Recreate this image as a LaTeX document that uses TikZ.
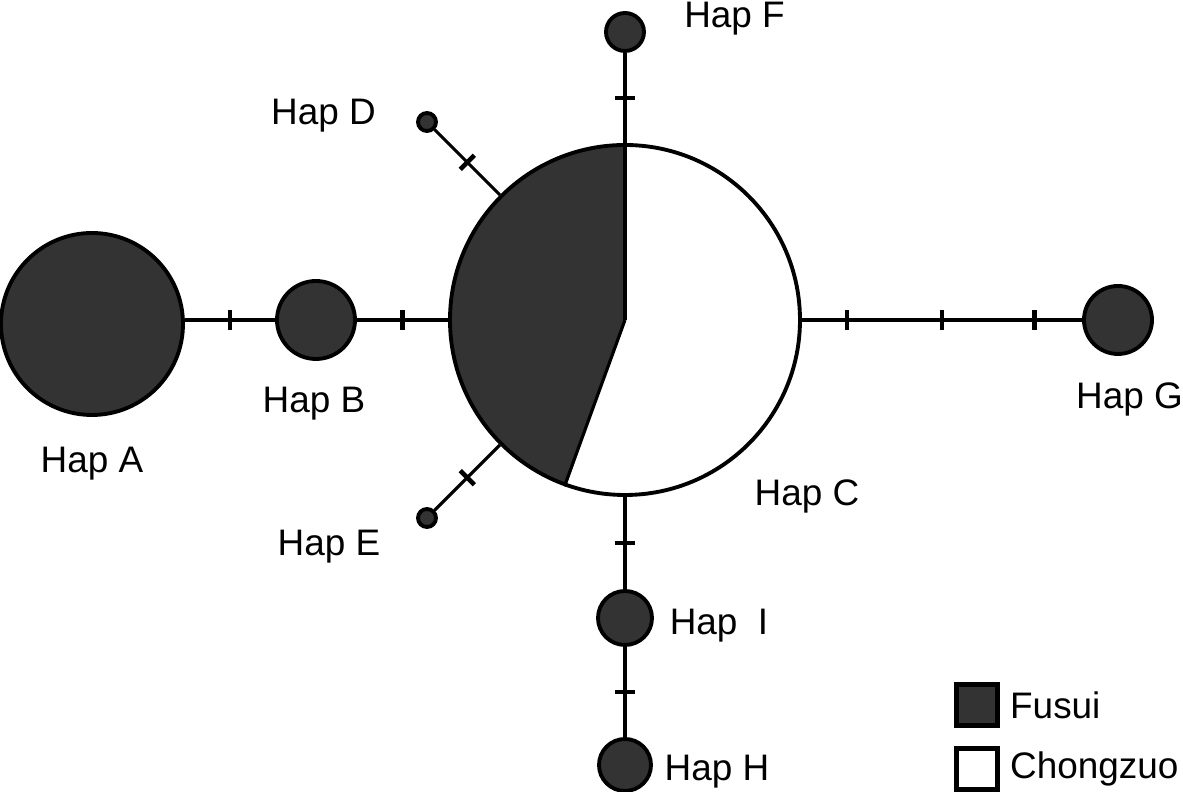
\documentclass[tikz,border=0pt]{standalone}
\usepackage{fontspec}
\setmainfont{Liberation Sans}
\usetikzlibrary{positioning}

\definecolor{fusui}{HTML}{333333}

\tikzset{
    hap/.style={circle, draw, line width=1.1pt, fill=fusui, inner sep=0pt},
    mut/.style={fill=black, inner sep=0pt, minimum width=0.045cm, minimum height=0.2cm, sloped},
    link/.style={line width=0.9pt},
    key/.style={rectangle, draw, line width=1.3pt, inner sep=0pt, minimum size=0.41cm}
}

\begin{document}
\begin{tikzpicture}[node distance=2cm, on grid, font=\fontsize{10.5}{12}\selectfont]
    \useasboundingbox (-6.25,3.20) rectangle (5.58,-4.72);

    \node[hap, fill=white, minimum size=3.5cm, path picture={
        \fill[fusui] (path picture bounding box.center) -- ++(90:2cm)
            arc[start angle=90, end angle=250.5, radius=2cm] -- cycle;}] (C) {};
    \node[hap, minimum size=1.82cm] (A) [below left=0.04cm and 5.33cm of C] {};
    \node[hap, minimum size=0.78cm] (B) [left=3.09cm of C] {};
    \node[hap, minimum size=0.18cm] (D) [above left=1.98cm and 1.98cm of C] {};
    \node[hap, minimum size=0.18cm] (E) [below left=1.98cm and 1.98cm of C] {};
    \node[hap, minimum size=0.38cm] (F) [above=2.88cm of C] {};
    \node[hap, minimum size=0.68cm] (G) [right=4.93cm of C] {};
    \node[hap, minimum size=0.54cm] (I) [below=2.98cm of C] {};
    \node[hap, minimum size=0.52cm] (H) [below=1.47cm of I] {};

    \draw[link] (C.center) -- (C.north);
    \draw[link] (C.center) -- (C.250.5);

    \path[link]
    (A.east |- B) edge node[mut] {} (B)
    (B) edge node[mut] {} (C)
    (D) edge node[mut] {} (C)
    (E) edge node[mut] {} (C)
    (C) edge node[mut] {} (F)
    (C) edge node[mut] {} (I)
    (I) edge node[mut] {} (H)
    (C) edge node[mut, pos=0.16] {} node[mut, pos=0.5] {} node[mut, pos=0.83] {} (G);

    % labels
    \node (lA) [below=1.40cm of A] {Hap A};
    \node (lB) [below left=0.84cm and 0.02cm of B] {Hap B};
    \node (lC) [below right=1.76cm and 1.82cm of C] {Hap C};
    \node (lD) [above left=0.06cm and 1.035cm of D] {Hap D};
    \node (lE) [below left=0.29cm and 0.98cm of E] {Hap E};
    \node (lF) [above right=0.13cm and 1.095cm of F] {Hap F};
    \node (lG) [below right=0.79cm and 0.115cm of G] {Hap G};
    \node (lI) [below right=0.08cm and 0.94cm of I] {Hap\ \ I};
    \node (lH) [below right=0.07cm and 0.92cm of H] {Hap H};

    % legend
    \node[key, fill=fusui, label={[label distance=-0.02cm]right:Fusui}] (kF)
        [below right=3.85cm and 3.52cm of C] {};
    \node[key, fill=white, label={[label distance=-0.02cm]right:Chongzuo}] (kC)
        [below=0.64cm of kF] {};

\end{tikzpicture}
\end{document}
